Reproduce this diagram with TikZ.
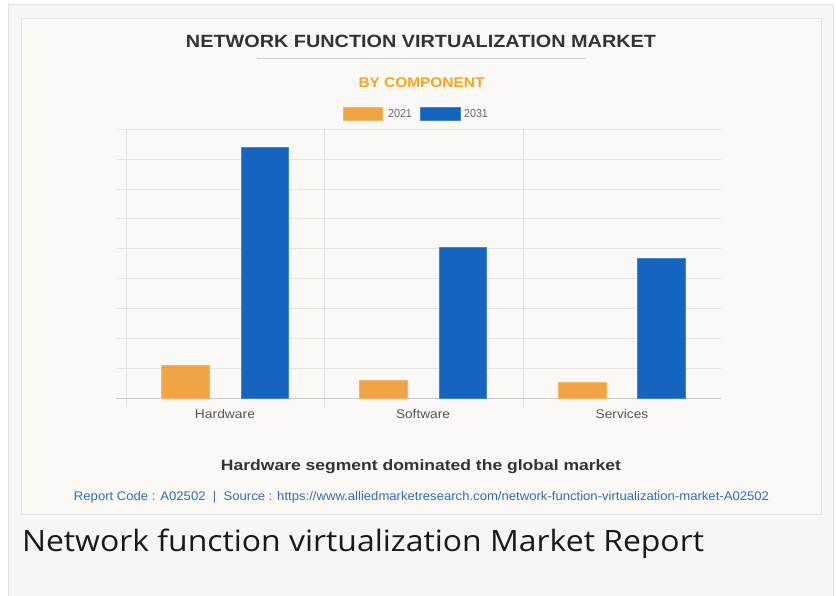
\documentclass[tikz,border=0pt]{standalone}
\usepackage{fontspec}
\setmainfont{Liberation Sans}
\newfontfamily\capfont{Open Sans}
\usepackage{graphicx}
\newcommand{\fitw}[2]{\resizebox{#1}{\height}{#2}}
\definecolor{outerbg}{HTML}{F6F6F6}
\definecolor{outerline}{HTML}{E2E2E2}
\definecolor{cardbg}{HTML}{FAF9F5}
\definecolor{cardline}{HTML}{E4E4E2}
\definecolor{titlegray}{HTML}{333333}
\definecolor{subor}{HTML}{F7A51E}
\definecolor{barorange}{HTML}{F0A444}
\definecolor{barblue}{HTML}{1565C0}
\definecolor{gridc}{HTML}{E6E5E1}
\definecolor{axisc}{HTML}{CCCCCC}
\definecolor{labelc}{HTML}{555555}
\definecolor{linkblue}{HTML}{2F6DB8}
\begin{document}
\begin{tikzpicture}[x=1pt,y=-1pt,
  txt/.style={inner sep=0pt,outer sep=0pt,anchor=base},
  grid/.style={draw=gridc,line width=1pt},
  bar2021/.style={fill=barorange,draw=barorange!80!white,line width=0.6pt},
  bar2031/.style={fill=barblue,draw=barblue!80!white,line width=0.6pt},
  catlabel/.style={txt,font=\fontsize{12.5}{14}\selectfont,text=labelc},
  legtext/.style={txt,font=\fontsize{11.5}{13}\selectfont,text=labelc!90!white}]
\useasboundingbox (0,0) rectangle (836,596);
\fill[white] (0,0) rectangle (836,596);
\draw[draw=outerline,fill=outerbg,line width=1pt] (8,5) rectangle (833.5,602);
\draw[draw=cardline,fill=cardbg,line width=0.8pt] (21,18) rectangle (821.5,514);

% title
\node[txt,font=\bfseries\fontsize{17.7}{20}\selectfont,text=titlegray] (title) at (421,47.7)
  {\fitw{470pt}{NETWORK FUNCTION VIRTUALIZATION MARKET}};
\coordinate (ulA) at (257,58.7);
\coordinate (ulB) at (586,58.7);
\draw[draw=axisc,line width=1pt] (ulA) -- (ulB);
\node[txt,font=\bfseries\fontsize{14}{16}\selectfont,text=subor] (sub) at (421.5,87.7)
  {\fitw{126pt}{BY COMPONENT}};

% legend
\fill[bar2021] (343,107) rectangle (382,120);
\node[legtext] (l1) at (400,118) {\fitw{24pt}{2021}};
\fill[bar2031] (420,107) rectangle (460,120);
\node[legtext] (l2) at (476,118) {\fitw{24pt}{2031}};

% grid
\foreach \yy in {129.3,159.2,189.1,219,248.9,278.8,308.7,338.6,368.5}
  \draw[grid] (116,\yy) -- (721,\yy);
\foreach \xx in {126,324.5,523}
  \draw[grid] (\xx,129.3) -- (\xx,407);
\draw[draw=axisc,line width=1pt] (116,398.4) -- (721,398.4);

% bars
\filldraw[bar2021] (161.7,365) rectangle (209,398);
\filldraw[bar2031] (241,147.3) rectangle (288.3,398);
\filldraw[bar2021] (359.5,380) rectangle (407.2,398);
\filldraw[bar2031] (439,247.7) rectangle (486.7,398);
\filldraw[bar2021] (558.3,382.7) rectangle (606,398);
\filldraw[bar2031] (637.7,258) rectangle (685.7,398);

% category labels
\node[catlabel] (c1) at (225,418.4) {\fitw{60pt}{Hardware}};
\node[catlabel] (c2) at (423,418.4) {\fitw{54pt}{Software}};
\node[catlabel] (c3) at (622,418.4) {\fitw{52.6pt}{Services}};

% bottom texts
\node[txt,font=\bfseries\fontsize{15}{17}\selectfont,text=titlegray] (foot) at (421,470.7)
  {\fitw{400pt}{Hardware segment dominated the global market}};
\node[txt,font=\fontsize{12.5}{14}\selectfont,text=linkblue] (src) at (421.5,500)
  {\fitw{695pt}{Report Code : A02502~~|~~Source : https://www.alliedmarketresearch.com/network-function-virtualization-market-A02502}};

% caption
\node[txt,anchor=base west,font=\capfont\fontsize{29.4}{34}\selectfont,text=black!90] (cap) at (22,551)
  {\fitw{682pt}{Network function virtualization Market Report}};
\end{tikzpicture}
\end{document}
